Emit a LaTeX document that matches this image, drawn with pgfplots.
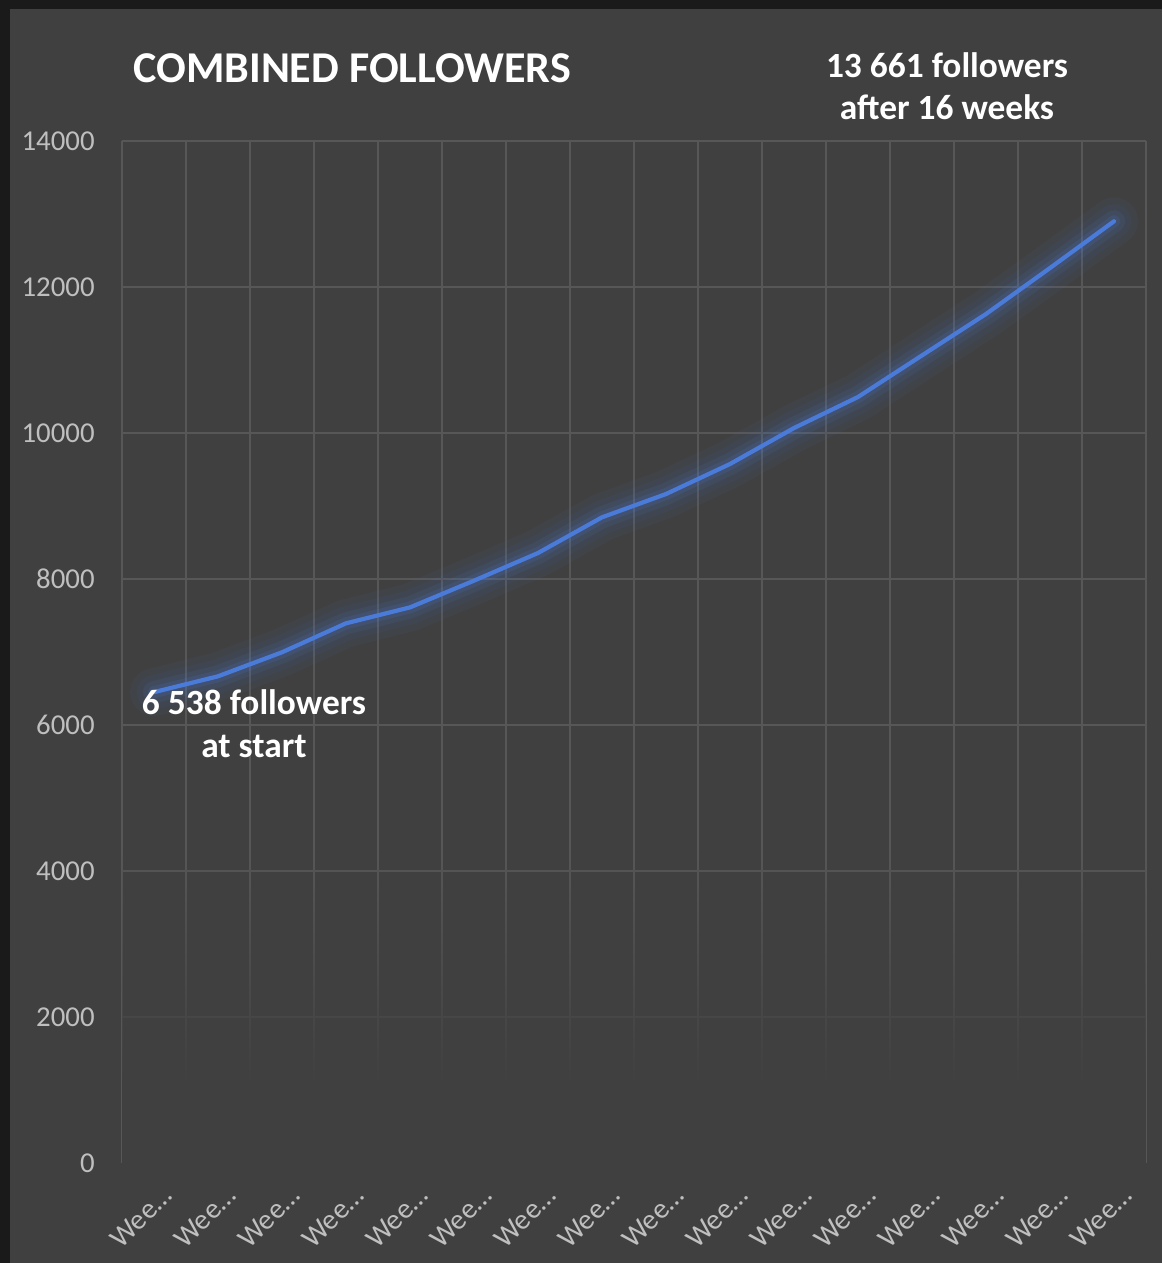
\documentclass[border=0pt]{standalone}
\usepackage{fontspec}
\setmainfont{Carlito}
\usepackage{pgfplots}
\usepackage{pgfplotstable}
\pgfplotsset{compat=1.18}
\usetikzlibrary{fadings}
\definecolor{framec}{HTML}{1A1A1A}
\definecolor{bgc}{HTML}{404040}
\definecolor{gridc}{HTML}{575757}
\definecolor{tickc}{HTML}{BFBFBF}
\definecolor{linec}{HTML}{4A7BD8}
\pgfplotstableread{
wk val
1 6450
2 6667
3 6996
4 7393
5 7611
6 7977
7 8356
8 8845
9 9164
10 9575
11 10068
12 10493
13 11063
14 11630
15 12260
16 12900
}\followers
\begin{document}
\begin{tikzpicture}[x=0.5pt,y=0.5pt]
\useasboundingbox (-122,-100) rectangle (1040,1163);
\fill[framec] (-122,-100) rectangle (1040,1163);
\fill[bgc] (-112,-100) rectangle (1040,1154);
\begin{axis}[
  at={(0,0)}, anchor=south west,
  scale only axis, width=512pt, height=511pt,
  xmin=0.5, xmax=16.5, ymin=0, ymax=14000,
  scaled y ticks=false,
  xtick={1,...,16},
  xticklabels={Wee…,Wee…,Wee…,Wee…,Wee…,Wee…,Wee…,Wee…,Wee…,Wee…,Wee…,Wee…,Wee…,Wee…,Wee…,Wee…},
  minor xtick={0.5,1.5,...,16.5},
  ytick={0,2000,4000,6000,8000,10000,12000,14000},
  yticklabels={0,2000,4000,6000,8000,10000,12000,14000},
  xminorgrids=true, xmajorgrids=false, ymajorgrids=true,
  major grid style={gridc, line width=0.8pt},
  minor grid style={gridc, line width=0.8pt},
  axis line style={draw=none},
  major tick length=0pt, minor tick length=0pt,
  tick style={draw=none},
  ticklabel style={font=\fontsize{14.4}{16}\selectfont, text=tickc},
  yticklabel style={anchor=east, inner sep=0pt, xshift=-13.5pt},
  xticklabel style={inner sep=0pt, xshift=6.5pt, yshift=-14pt, rotate=45, anchor=east},
  clip=false,
]
\fill[bgc] (axis cs:0.5,-40) rectangle (axis cs:16.5,1000);
\fill[bgc, path fading=north] (axis cs:0.5,1000) rectangle (axis cs:16.5,4300);
\addplot[linec, line width=24pt, opacity=0.05, line join=round, line cap=round] table[x=wk,y=val] {\followers};
\addplot[linec, line width=17pt, opacity=0.07, line join=round, line cap=round] table[x=wk,y=val] {\followers};
\addplot[linec, line width=11pt, opacity=0.10, line join=round, line cap=round] table[x=wk,y=val] {\followers};
\addplot[linec, line width=6pt, opacity=0.14, line join=round, line cap=round] table[x=wk,y=val] {\followers};
\addplot[linec, line width=2.1pt, line join=round, line cap=round] table[x=wk,y=val] {\followers};
\end{axis}
\node[anchor=base west, inner sep=0pt, text=white, font=\fontsize{22}{26}\selectfont\bfseries] at (11,1080) {COMBINED FOLLOWERS};
\node[anchor=base, inner sep=0pt, text=white, font=\fontsize{17.7}{21}\selectfont\bfseries] at (825,1085) {13 661 followers};
\node[anchor=base, inner sep=0pt, text=white, font=\fontsize{17.7}{21}\selectfont\bfseries] at (825,1043) {after 16 weeks};
\node[anchor=base, inner sep=0pt, text=white, font=\fontsize{17.7}{21}\selectfont\bfseries] at (132,448) {6 538 followers};
\node[anchor=base, inner sep=0pt, text=white, font=\fontsize{17.7}{21}\selectfont\bfseries] at (132,405) {at start};
\end{tikzpicture}
\end{document}
